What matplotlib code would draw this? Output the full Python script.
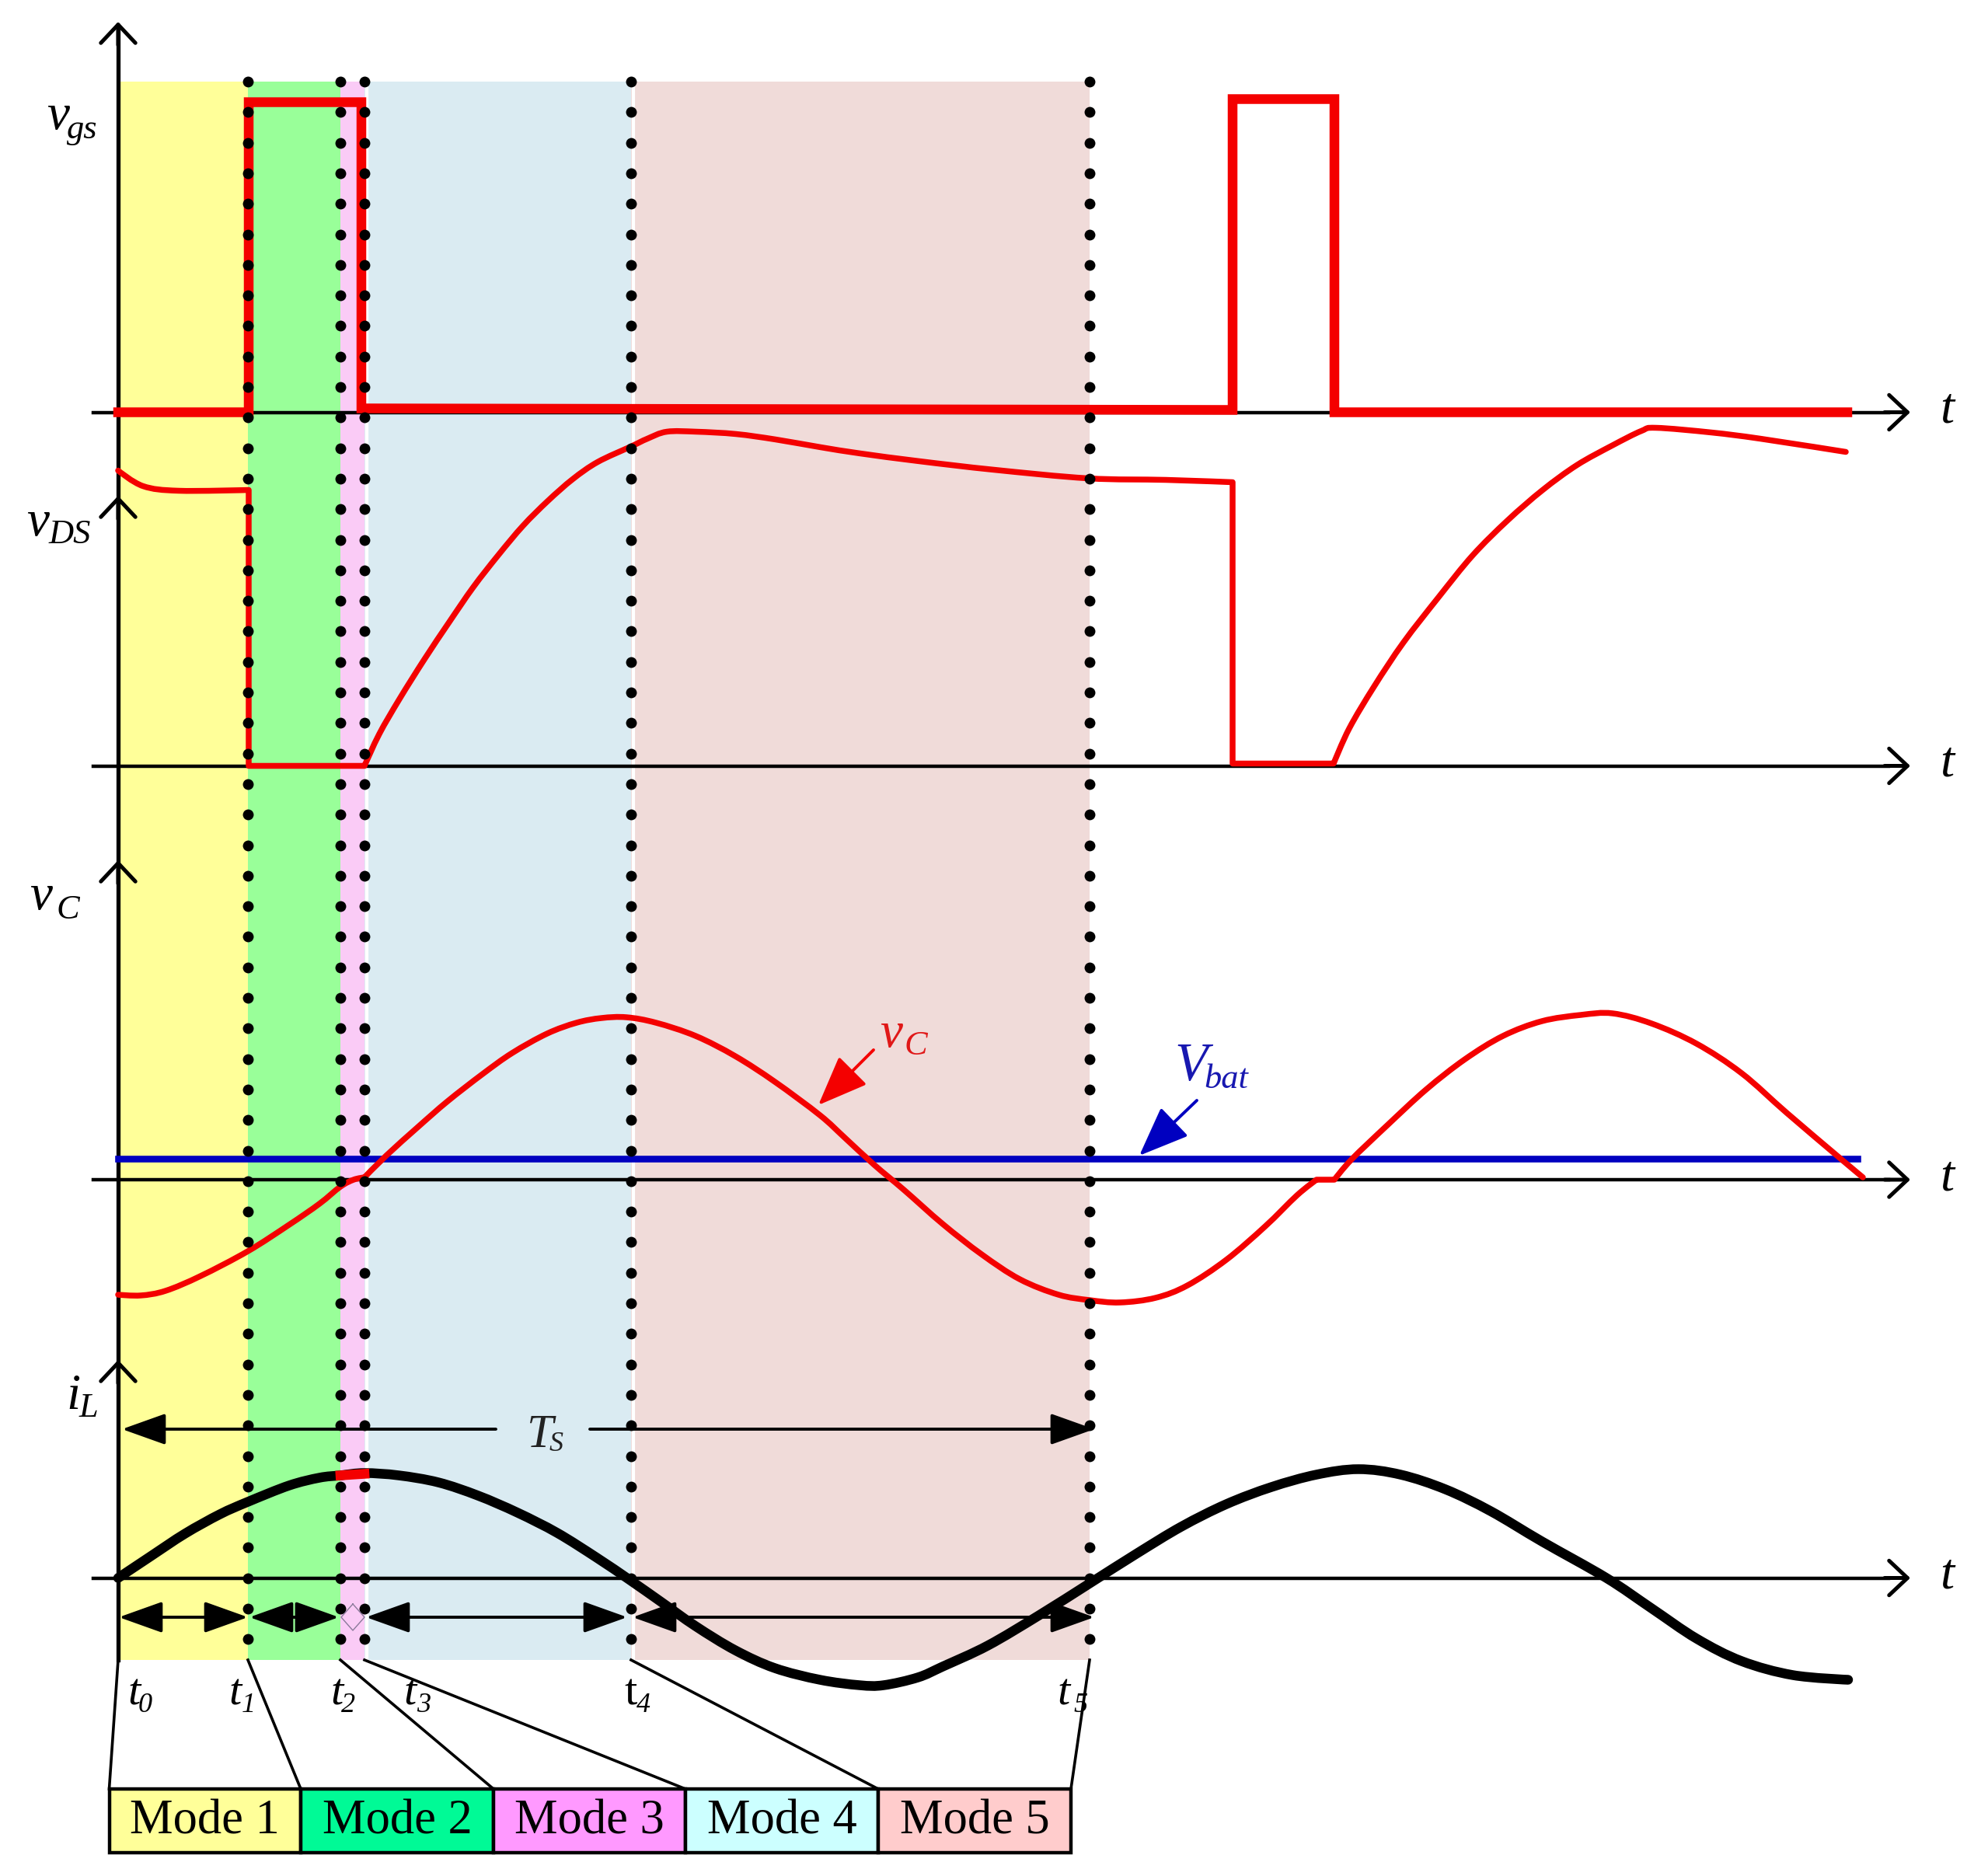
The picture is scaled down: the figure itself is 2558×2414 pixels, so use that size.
import numpy as np
import matplotlib
matplotlib.use('Agg')
import matplotlib.pyplot as plt
from matplotlib.patches import Rectangle, PathPatch
from matplotlib.path import Path

# time marks, measured from t0
t_marks = [0, 167, 286, 317, 660, 1250]
t_labels = ['t0', 't1', 't2', 't3', 't4', 't5']
modes = ['Mode 1', 'Mode 2', 'Mode 3', 'Mode 4', 'Mode 5']

# traces, time from t0 and height over each own baseline
vgs_t = [0, 168, 168, 313, 313, 1434, 1434, 1565, 1565, 2225]
vgs_v = [0, 0, 399, 399, 5, 3, 403, 403, 0, 0]

vds_t = [0, 32, 78, 168, 168, 317, 336, 362, 394, 426, 457, 489, 521, 553, 585, 617, 660, 681, 706, 744, 795, 846,
         904, 955, 1031, 1127, 1248, 1348, 1434, 1434, 1564, 1584, 1616, 1654, 1699, 1743, 1788, 1833, 1877, 1922,
         1960, 1979, 2050, 2113, 2223]
vds_v = [380, 360, 354, 355, 0, 0, 41, 86, 137, 185, 230, 271, 309, 341, 369, 391, 411, 421, 430, 430, 427, 420,
         410, 402, 392, 381, 370, 368, 365, 3, 3, 48, 102, 159, 217, 271, 316, 355, 387, 412,
         431, 435, 429, 421, 404]

vc_t = [0, 29, 61, 106, 167, 220, 259, 286, 303, 317, 345, 386, 424, 469, 507, 552, 590, 622, 654, 692, 743, 794,
        845, 903, 935, 973, 1011, 1061, 1111, 1160, 1210, 1250, 1289, 1335, 1376, 1426, 1476, 1517, 1542, 1565,
        1587, 1633, 1683, 1733, 1782, 1832, 1882, 1923, 1973, 2031, 2089, 2147, 2214, 2245]
vc_v = [-148, -149, -143, -124, -92, -58, -31, -9, 0, 3, 31, 68, 101, 136, 163, 188, 202, 208, 209, 202, 185, 159,
        126, 83, 54, 19, -13, -57, -96, -128, -148, -155, -158, -152, -136, -103, -60, -20, 0, 0,
        26, 70, 116, 155, 185, 204, 212, 214, 201, 175, 137, 86, 29, 3]

il_t = [0, 42, 86, 131, 167, 220, 259, 286, 317, 361, 412, 463, 514, 565, 616, 659, 699, 743, 794, 845, 903, 954,
        985, 1029, 1061, 1119, 1185, 1250, 1310, 1368, 1426, 1484, 1542, 1596, 1650, 1708, 1766, 1832, 1915, 1973,
        2031, 2089, 2155, 2226]
il_v = [0, 28, 57, 82, 98, 119, 129, 132, 135, 132, 123, 106, 84, 58, 26, -3, -31, -62, -93, -116, -131, -138,
        -138, -128, -114, -87, -48, -7, 31, 66, 95, 117, 133, 140, 133, 114, 86, 47, 0, -39,
        -78, -107, -125, -131]
il_red_t = [286, 317]
il_red_v = [132, 134]

vbat_t = [0, 2238]
vbat_v = [27, 27]

shade_colors = ['#FFFF99', '#99FF99', '#FACBF6', '#DAEBF2', '#F0DBD9']
mode_colors = ['#FFFF99', '#00FA96', '#FF99FF', '#CCFFFF', '#FFCCCC']

RED = '#F40000'
BLUE = '#0000C0'
SERIF = 'Liberation Serif'

# layout in pixels of the picture
X0 = 152
BASE_GS, BASE_DS, BASE_C, BASE_L = 530.5, 985.5, 1518, 2030.5
TOP, BOT = 105, 2136
BOX_X = [140.5, 387, 635, 882, 1130, 1378]
BOX_Y0, BOX_Y1 = 2302, 2384

fig = plt.figure(figsize=(25.58, 24.14), dpi=100)
ax = fig.add_axes([0, 0, 1, 1])
ax.set_xlim(0, 2558)
ax.set_ylim(2414, 0)
ax.axis('off')

x_marks = [X0 + t for t in t_marks]


def curve(t, v, base, color, lw, z):
    # smooth line through the read points, sharp where the direction really turns
    p = np.column_stack([X0 + np.array(t, dtype=float), base - np.array(v, dtype=float)])
    tan = np.zeros_like(p)
    for i in range(1, len(p) - 1):
        a = p[i] - p[i - 1]
        b = p[i + 1] - p[i]
        cos = np.dot(a, b) / (np.linalg.norm(a) * np.linalg.norm(b))
        if cos > 0.85:
            tan[i] = (p[i + 1] - p[i - 1]) / 6
    verts = [p[0]]
    codes = [Path.MOVETO]
    for i in range(len(p) - 1):
        verts += [p[i] + tan[i], p[i + 1] - tan[i + 1], p[i + 1]]
        codes += [Path.CURVE4] * 3
    ax.add_patch(PathPatch(Path(verts, codes), fc='none', ec=color, lw=lw, capstyle='round',
                           joinstyle='round', zorder=z))


def open_arrow(x0, y0, x1, y1):
    ax.annotate('', xy=(x1, y1), xytext=(x0, y0), zorder=3,
                arrowprops=dict(arrowstyle='->,head_length=1.7,head_width=1.6', color='black', lw=3.6,
                                shrinkA=0, shrinkB=0, mutation_scale=10))


def solid_arrow(x0, x1, y, style='<|-|>', color='black'):
    ax.annotate('', xy=(x1, y), xytext=(x0, y), zorder=6,
                arrowprops=dict(arrowstyle=style + ',head_length=3.5,head_width=1.25',
                                color=color, lw=2.8, shrinkA=0, shrinkB=0, mutation_scale=10))


def sub_label(x, y, main, sub, xs, ys, color='black', fs=47, fss=32, style='italic'):
    ax.text(x, y, main, family=SERIF, style=style, fontsize=fs, color=color, va='baseline', zorder=7)
    ax.text(xs, ys, sub, family=SERIF, style='italic', fontsize=fss, color=color, va='baseline', zorder=7)


# shaded modes
for i in range(5):
    ax.add_patch(Rectangle((x_marks[i], TOP), x_marks[i + 1] - x_marks[i], BOT - TOP,
                           fc=shade_colors[i], ec='none', zorder=1))
for x in x_marks[3:5]:
    ax.plot([x + 3, x + 3], [TOP, BOT], color='white', lw=3, zorder=1.5)

# axes
ax.plot([X0, X0], [40, BOT], color='black', lw=3.8, zorder=3)
for tip in [28, 638, 1107, 1750]:
    open_arrow(X0, tip + 30, X0, tip)
for base in [BASE_GS, BASE_DS, BASE_C, BASE_L]:
    ax.plot([120, 2430], [base, base], color='black', lw=3.2, zorder=3)
    open_arrow(2425, base, 2458, base)
    ax.text(2505, base + 13, 't', family=SERIF, style='italic', fontsize=47, ha='center', va='baseline')

# traces
ax.plot(X0 + np.array(vgs_t), BASE_GS - np.array(vgs_v), color=RED, lw=9, solid_joinstyle='miter', zorder=4)
curve(vds_t, vds_v, BASE_DS, RED, 5.4, 4)
ax.plot(X0 + np.array(vbat_t), BASE_C - np.array(vbat_v), color=BLUE, lw=6.2, zorder=4)
curve(vc_t, vc_v, BASE_C, RED, 5.4, 4.5)

# dotted time marks
dot_y = np.arange(TOP, 2115, 39.3)
for x in x_marks[1:]:
    ax.plot(np.full(len(dot_y), x), dot_y, ls='none', marker='o', ms=10, color='black', mec='none', zorder=5)

curve(il_t, il_v, BASE_L, 'black', 9, 5.5)
ax.plot(X0 + np.array(il_red_t), BASE_L - np.array(il_red_v), color=RED, lw=9, zorder=5.6)

# interval arrows
ROW_Y = 2081
solid_arrow(153, 319, ROW_Y)
solid_arrow(321, 436, ROW_Y)
solid_arrow(471, 807, ROW_Y)
solid_arrow(814, 1408, ROW_Y)
ax.plot([454, 439, 454, 469, 454], [ROW_Y - 17, ROW_Y, ROW_Y + 17, ROW_Y, ROW_Y - 17],
        color='#8A7A9A', lw=1, zorder=6)
solid_arrow(157, 638, 1839, style='<|-')
solid_arrow(759, 1408, 1839, style='-|>')

# coloured pointers
for tail, tip, col in [((1124, 1351), (1053, 1422), RED), ((1540, 1416), (1466, 1487), BLUE)]:
    ax.annotate('', xy=tip, xytext=tail, zorder=6,
                arrowprops=dict(arrowstyle='-|>,head_length=4.0,head_width=1.6', color=col, lw=2.8,
                                shrinkA=0, shrinkB=0, mutation_scale=10))

# labels
sub_label(60, 166, 'v', 'gs', 86, 178)
sub_label(34, 689, 'v', 'DS', 63, 699)
sub_label(38, 1170, 'v', 'C', 73, 1182)
sub_label(85, 1813, 'i', 'L', 102, 1823)
sub_label(1132, 1347, 'v', 'C', 1164, 1357, color='#E01818')
sub_label(1511, 1390, 'V', 'bat', 1549, 1400, color='#1818B0', fs=50)
sub_label(678, 1862, 'T', 'S', 707, 1867, fs=44, fss=26, color='#222222')

label_x = [164, 294, 425, 519, 803, 1360]
sub_x = [178, 311, 439, 536, 819, 1381]
for i, lab in enumerate(t_labels):
    sub_label(label_x[i], 2193, lab[0], lab[1], sub_x[i], 2203, fs=42, fss=26,
              style='normal' if i == 4 else 'italic')

# mode boxes and the lines that lead to them
for i, name in enumerate(modes):
    ax.add_patch(Rectangle((BOX_X[i], BOX_Y0), BOX_X[i + 1] - BOX_X[i], BOX_Y1 - BOX_Y0,
                           fc=mode_colors[i], ec='black', lw=3.2, zorder=3))
    ax.text((BOX_X[i] + BOX_X[i + 1]) / 2, 2360, name, family=SERIF, fontsize=45, ha='center', va='baseline', zorder=4)
for i, x in enumerate(BOX_X):
    ax.plot([x_marks[i], x], [BOT, BOX_Y0], color='black', lw=2.6, zorder=3)

fig.savefig('out.png', dpi=100, facecolor='white')
